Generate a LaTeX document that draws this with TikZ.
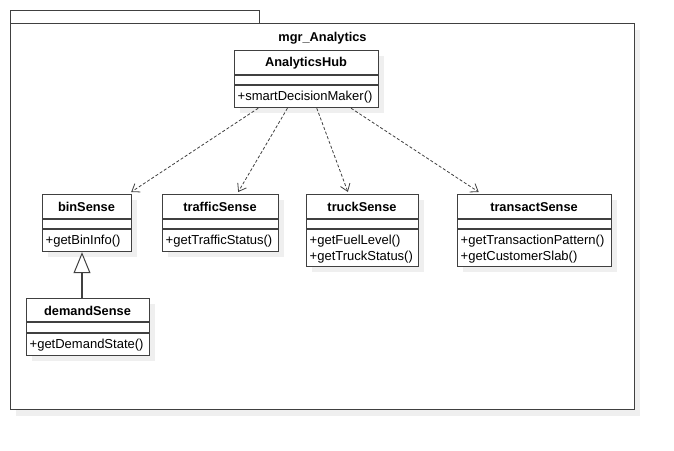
\documentclass[tikz,border=0pt]{standalone}
\usepackage{fontspec}
\setmainfont{Liberation Sans}
\usetikzlibrary{arrows.meta,calc}
\definecolor{edgec}{HTML}{404040}
\definecolor{shadec}{HTML}{EFEFEF}
\tikzset{
  boxline/.style={draw=edgec, line width=1.2pt},
  shadowbox/.style={fill=shadec, draw=none},
  classbox/.style={boxline, fill=white, rectangle, inner sep=0pt, anchor=north west},
  ctitle/.style={font=\fontsize{12.8}{15}\selectfont\bfseries, inner sep=0pt},
  cmeth/.style={font=\fontsize{13}{16}\selectfont, inner sep=0pt, anchor=north west, align=left},
  depend/.style={draw=edgec, line width=0.8pt, dash pattern=on 3pt off 2pt, -{Straight Barb[length=7pt,width=10pt,line width=0.8pt]}},
  general/.style={draw=edgec, line width=1.2pt, -{Triangle[open,length=21pt,width=17pt,fill=white,line width=1pt]}},
}
% \umlclass{name}{x1}{y1}{x2}{y2}{sep1}{sep2}{title}{methods}
\newcommand{\umlclass}[9]{%
  \fill[shadowbox] (#2+6,#3+6) rectangle (#4+6,#5+6);
  \node[classbox, minimum width=#4-#2, minimum height=#5-#3] (#1) at (#2,#3) {};
  \draw[boxline] (#2,#6) -- (#4,#6);
  \draw[boxline] (#2,#7) -- (#4,#7);
  \node[ctitle] (#1-t) at ({(#2+#4)/2},{(#3+#6)/2+0.5}) {#8};
  \node[cmeth] (#1-m) at (#2+3.5,#7+5.5) {#9};
}
\begin{document}
\begin{tikzpicture}[x=1pt,y=-1pt]
\useasboundingbox (0,0) rectangle (674,450);
% package
\fill[shadowbox] (16,30) rectangle (640,416);
\draw[draw=edgec, line width=1pt, fill=white] (10,10) rectangle (259,23);
\node[draw=edgec, line width=1.2pt, fill=white, rectangle, inner sep=0pt, anchor=north west, minimum width=624, minimum height=386] (pkg) at (10,23) {};
\node[ctitle] (pkgname) at (322.5,38) {mgr\_Analytics};
% classes
\umlclass{hub}{234}{50}{378}{107}{75}{85}{AnalyticsHub}{+smartDecisionMaker()}
\umlclass{bin}{42}{194}{131}{251}{219}{229}{binSense}{+getBinInfo()}
\umlclass{traffic}{162}{194}{278}{251}{219}{229}{trafficSense}{+getTrafficStatus()}
\umlclass{truck}{306}{194}{418}{266}{219}{229}{truckSense}{+getFuelLevel()\\+getTruckStatus()}
\umlclass{transact}{457}{194}{611}{266}{219}{229}{transactSense}{+getTransactionPattern()\\+getCustomerSlab()}
\umlclass{demand}{26}{298}{149}{355}{322}{333}{demandSense}{+getDemandState()}
% dependencies
\draw[depend] ($(hub.south west)!0.167!(hub.south east)$) -- ($(bin.north east)+(-1,-2)$);
\draw[depend] ($(hub.south west)!0.368!(hub.south east)$) -- ($(traffic.north west)!0.65!(traffic.north east)+(0,-2)$);
\draw[depend] ($(hub.south west)!0.57!(hub.south east)$) -- ($(truck.north west)!0.37!(truck.north east)+(0,-2)$);
\draw[depend] ($(hub.south west)!0.806!(hub.south east)$) -- ($(transact.north west)!0.14!(transact.north east)+(0,-2)$);
% generalization
\draw[general] (demand.north -| 82,0) -- (bin.south -| 82,0);
\end{tikzpicture}
\end{document}
